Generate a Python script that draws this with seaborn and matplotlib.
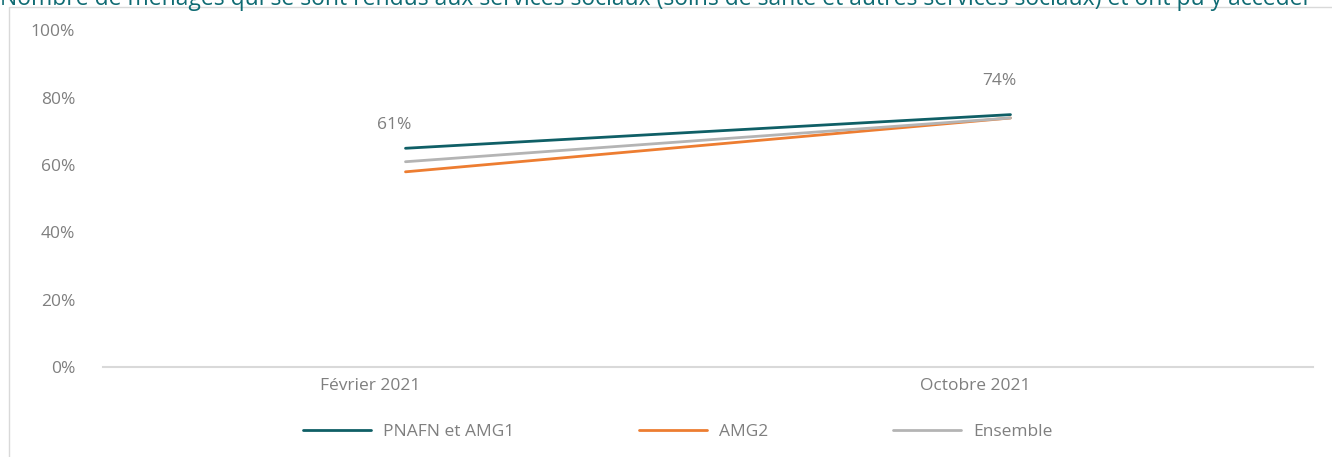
import pandas as pd
import seaborn as sns
import matplotlib.pyplot as plt
import matplotlib.transforms as mtransforms
from matplotlib.patches import Rectangle

# data
periodes = ["Février 2021", "Octobre 2021"]
pnafn_amg1 = [0.65, 0.75]
amg2 = [0.58, 0.74]
ensemble = [0.61, 0.74]

series = ["PNAFN et AMG1", "AMG2", "Ensemble"]
couleurs = ["#0f5f66", "#ed7d31", "#b4b4b4"]

titre = ("Nombre de ménages qui se sont rendus aux services sociaux "
         "(soins de santé et autres services sociaux) et ont pu y accéder")

df = pd.DataFrame({
    "Période": periodes * 3,
    "Part": pnafn_amg1 + amg2 + ensemble,
    "Groupe": [s for s in series for _ in periodes],
})

sns.set_style("white")
plt.rcParams["font.family"] = ["Open Sans", "DejaVu Sans"]
gris = "#7f7f7f"
taille = 12.5

fig = plt.figure(figsize=(13.32, 4.57), dpi=100)
ax = fig.add_axes([103 / 1332, 90 / 457, 1210 / 1332, 336.5 / 457])

sns.lineplot(data=df, x="Période", y="Part", hue="Groupe", hue_order=series,
             palette=couleurs, linewidth=2, ax=ax, legend=True, sort=False)

ax.set_xlim(-0.5, 1.5)
ax.set_ylim(0, 1)
ax.set_yticks([0, 0.2, 0.4, 0.6, 0.8, 1.0])
ax.set_yticklabels(["0%", "20%", "40%", "60%", "80%", "100%"])
ax.set_xlabel("")
ax.set_ylabel("")
ax.tick_params(axis="y", length=0, pad=20, labelsize=taille, labelcolor=gris)
ax.tick_params(axis="x", length=0, pad=8, labelsize=taille, labelcolor=gris)

# Excel shifts the category labels a bit to the left
decal = mtransforms.ScaledTranslation(-35 / 100, 0, fig.dpi_scale_trans)
for lab in ax.get_xticklabels():
    lab.set_transform(lab.get_transform() + decal)

for side in ["top", "right", "left"]:
    ax.spines[side].set_visible(False)
ax.spines["bottom"].set_color("#d9d9d9")
ax.spines["bottom"].set_linewidth(1.5)

# labels on the Ensemble line
for i, v in enumerate(ensemble):
    ax.annotate(f"{round(v * 100)}%", (i, v), xytext=(-11, 37),
                textcoords="offset pixels", ha="center", va="center",
                fontsize=taille, color=gris)

leg = ax.legend(loc="center", bbox_to_anchor=(678 / 1332, 25 / 457),
                bbox_transform=fig.transFigure, ncol=3, frameon=False,
                fontsize=taille, labelcolor=gris, handlelength=3.9,
                handletextpad=0.7, columnspacing=7.2)
for h in leg.get_lines():
    h.set_linewidth(2)

# chart frame and the clipped title above it
fig.patches.append(Rectangle((9 / 1332, -0.1), 1.1, (450 / 457) + 0.1,
                             transform=fig.transFigure, fill=False,
                             edgecolor="#d9d9d9", linewidth=1))
fig.text(0.0, 452 / 457, titre, color="#0f6b73", fontsize=16.5,
         va="baseline", ha="left")

plt.savefig("out.png", dpi=100)
